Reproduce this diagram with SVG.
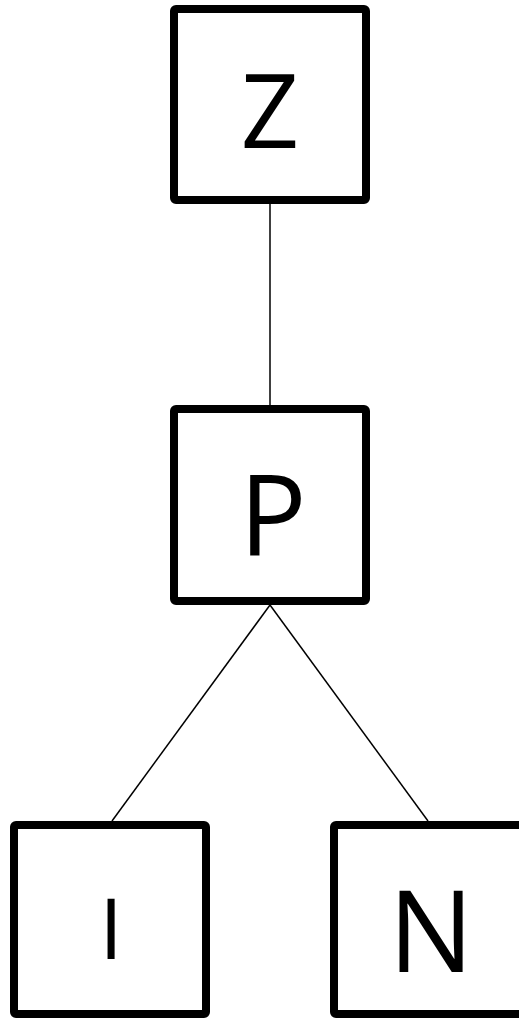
<svg xmlns="http://www.w3.org/2000/svg" width="519" height="1018" viewBox="0 0 519 1018">
<style>
.box{fill:#fff;stroke:#000;stroke-width:8;stroke-linejoin:round}
.lbl{font-family:"Open Sans","Noto Sans",sans-serif;fill:#000;text-anchor:middle}
.edge{stroke:#000;stroke-width:1.5;fill:none}
</style>
<rect width="519" height="1018" fill="#fff"/>
<g id="connectors">
<line class="edge" x1="270" y1="204" x2="270" y2="405"/>
<line class="edge" x1="270" y1="605" x2="112" y2="821"/>
<line class="edge" x1="270" y1="605" x2="428" y2="821"/>
</g>
<g id="node-Z">
<rect class="box" x="174" y="9" width="192" height="191" rx="2"/>
<text class="lbl" x="270" y="148" font-size="102">Z</text>
</g>
<g id="node-P">
<rect class="box" x="174" y="409" width="192" height="192" rx="2"/>
<text class="lbl" x="273" y="555" font-size="112">P</text>
</g>
<g id="node-I">
<rect class="box" x="14" y="825" width="192" height="189" rx="2"/>
<text class="lbl" x="111" y="959" font-size="85">I</text>
</g>
<g id="node-N">
<rect class="box" x="334" y="825" width="192" height="189" rx="2"/>
<text class="lbl" x="431" y="972" font-size="113">N</text>
</g>
</svg>
